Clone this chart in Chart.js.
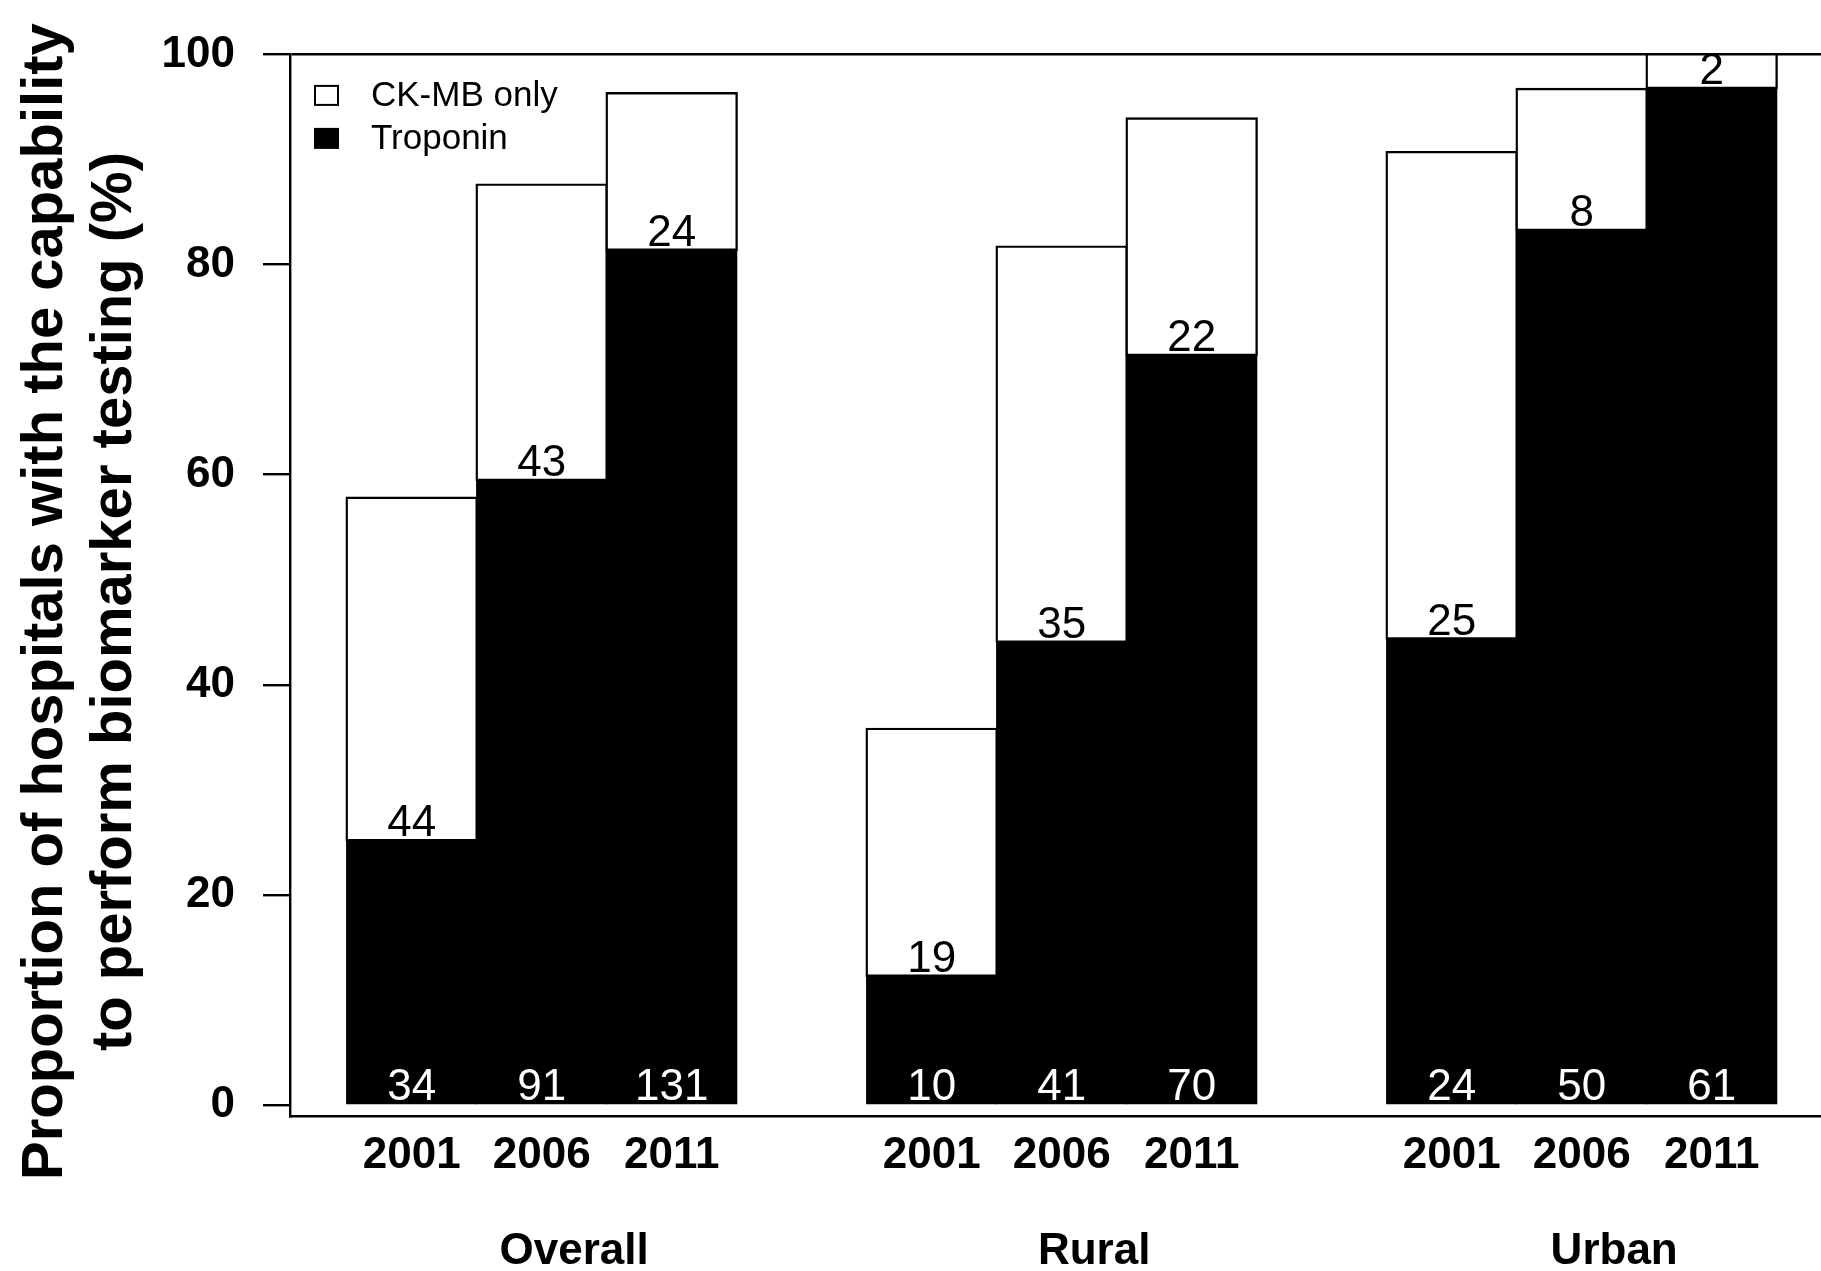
<!DOCTYPE html>
<html>
<head>
<meta charset="utf-8">
<script src="https://cdn.jsdelivr.net/npm/chart.js@4.4.1/dist/chart.umd.min.js"></script>
<style>
html,body{margin:0;padding:0;background:#fff;overflow:hidden;}
#wrap{width:1821px;height:1271px;position:relative;}
</style>
</head>
<body>
<div id="wrap"><canvas id="c" width="1821" height="1271"></canvas></div>
<script>
// ---- data ----
const groups = ['Overall', 'Rural', 'Urban'];
const years = ['2001', '2006', '2011'];
// percent of hospitals, in order Overall(2001,2006,2011), Rural(...), Urban(...)
const troponinPct = [25.2, 59.5, 81.4, 12.3, 44.1, 71.4, 44.4, 83.3, 96.8];
const ckmbOnlyPct = [32.6, 28.1, 14.9, 23.5, 37.6, 22.5, 46.3, 13.4, 3.2];
// counts printed on bars
const troponinN = [34, 91, 131, 10, 41, 70, 24, 50, 61];
const ckmbOnlyN = [44, 43, 24, 19, 35, 22, 25, 8, 2];
const yTicks = [0, 20, 40, 60, 80, 100];
const yTitle = ['Proportion of hospitals with the capability  ', 'to perform biomarker testing (%)  '];
const seriesLabels = ['Troponin', 'CK-MB only'];

// ---- layout helpers (slot index per bar; one empty slot between groups) ----
const FONT = "'Liberation Sans', Arial, Helvetica, sans-serif";
const slots = [];
const xLabels = [];
const groupPos = [];
groups.forEach((g, gi) => {
  years.forEach((y, yi) => {
    slots.push(gi * (years.length + 1) + yi);
    xLabels.push(y);
  });
  groupPos.push(gi * (years.length + 1) + 1.25);
});
const X_MIN = -0.936, X_MAX = 10.841;

const countsPlugin = {
  id: 'counts',
  afterDatasetsDraw(chart) {
    const ctx = chart.ctx;
    const tMeta = chart.getDatasetMeta(0);
    ctx.save();
    ctx.font = '44px ' + FONT;
    ctx.textAlign = 'center';
    ctx.textBaseline = 'alphabetic';
    tMeta.data.forEach((el, i) => {
      ctx.fillStyle = '#fff';
      ctx.fillText(String(troponinN[i]), el.x, el.base - 4);
      ctx.fillStyle = '#000';
      ctx.fillText(String(ckmbOnlyN[i]), el.x, el.y - 4);
    });
    ctx.restore();
  }
};

const legendPlugin = {
  id: 'innerLegend',
  afterDraw(chart) {
    const ctx = chart.ctx;
    const a = chart.chartArea;
    const items = [chart.data.datasets[1], chart.data.datasets[0]];
    ctx.save();
    ctx.font = '35px ' + FONT;
    ctx.textBaseline = 'middle';
    ctx.textAlign = 'left';
    items.forEach((ds, i) => {
      const cy = a.top + 41 + i * 43;
      const bx = a.left + 24;
      ctx.fillStyle = ds.backgroundColor;
      ctx.fillRect(bx, cy - 10.5, 25, 21);
      if (ds.borderWidth) {
        ctx.strokeStyle = ds.borderColor;
        ctx.lineWidth = 2;
        ctx.strokeRect(bx + 1, cy - 9.5, 23, 19);
      }
      ctx.fillStyle = '#000';
      ctx.fillText(ds.label, a.left + 81, cy + 1);
    });
    ctx.restore();
  }
};

const tickFont = {family: FONT, size: 44, weight: 'bold', lineHeight: 1.08};

new Chart(document.getElementById('c'), {
  type: 'bar',
  data: {
    datasets: [
      {
        label: seriesLabels[0],
        data: troponinPct.map((v, i) => ({x: slots[i], y: v})),
        backgroundColor: '#000',
        borderWidth: 0,
        inflateAmount: 0.6,
        categoryPercentage: 1,
        barPercentage: 1,
        xAxisID: 'x'
      },
      {
        label: seriesLabels[1],
        data: ckmbOnlyPct.map((v, i) => ({x: slots[i], y: v})),
        backgroundColor: '#fff',
        borderColor: '#000',
        borderWidth: 2.4,
        borderSkipped: false,
        inflateAmount: 1.2,
        categoryPercentage: 1,
        barPercentage: 1,
        xAxisID: 'x'
      }
    ]
  },
  options: {
    responsive: false,
    animation: false,
    devicePixelRatio: 1,
    layout: {padding: {top: 47.5, left: 0, right: 0, bottom: 0}},
    plugins: {legend: {display: false}, tooltip: {enabled: false}},
    scales: {
      x: {
        type: 'linear',
        position: 'bottom',
        weight: 0,
        stacked: true,
        offset: false,
        bounds: 'data',
        min: X_MIN,
        max: X_MAX,
        grid: {display: false, drawTicks: false, offset: false},
        border: {display: true, color: '#000', width: 2.4},
        afterBuildTicks: s => { s.ticks = slots.map(v => ({value: v})); },
        afterFit: s => { s.height = 80; },
        ticks: {
          autoSkip: false,
          maxRotation: 0,
          minRotation: 0,
          padding: 16,
          color: '#000',
          font: tickFont,
          callback: (v, i) => xLabels[i]
        }
      },
      xGroup: {
        type: 'linear',
        position: 'bottom',
        weight: 1,
        offset: false,
        bounds: 'data',
        min: X_MIN,
        max: X_MAX,
        grid: {display: false, drawTicks: false, offset: false},
        border: {display: false},
        afterBuildTicks: s => { s.ticks = groupPos.map(v => ({value: v})); },
        afterFit: s => { s.height = 74.5; },
        ticks: {
          autoSkip: false,
          maxRotation: 0,
          minRotation: 0,
          padding: 32,
          color: '#000',
          font: tickFont,
          callback: (v, i) => groups[i]
        }
      },
      y: {
        type: 'linear',
        stacked: true,
        min: -1.1,
        max: 100,
        afterBuildTicks: s => { s.ticks = yTicks.map(v => ({value: v})); },
        afterFit: s => { s.width = 290; },
        grid: {
          display: true,
          drawOnChartArea: true,
          drawTicks: true,
          tickLength: 27,
          tickWidth: 2.4,
          tickColor: '#000',
          lineWidth: 2.4,
          color: c => (c.tick && c.tick.value === 100) ? '#000' : 'rgba(0,0,0,0)'
        },
        border: {display: true, color: '#000', width: 2.4},
        ticks: {
          padding: 28,
          color: '#000',
          font: {family: FONT, size: 44, weight: 'bold'},
          callback: v => String(v)
        },
        title: {
          display: true,
          text: yTitle,
          color: '#000',
          font: {family: FONT, size: 58, weight: 'bold', lineHeight: 1.2},
          padding: {top: 11, bottom: 0}
        }
      }
    }
  },
  plugins: [countsPlugin, legendPlugin]
});
</script>
</body>
</html>
